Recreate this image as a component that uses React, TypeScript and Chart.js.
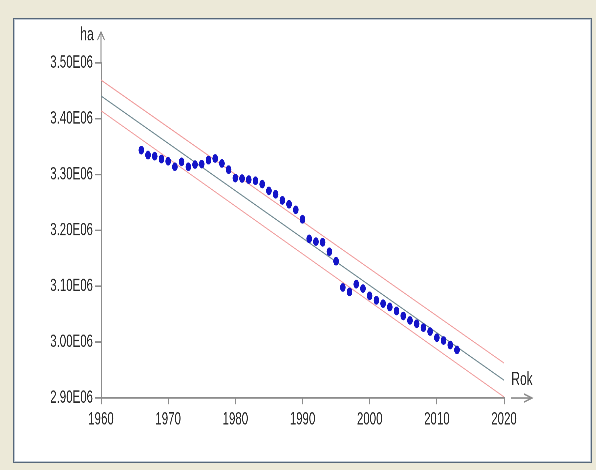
import React, { useEffect, useRef } from "react";
import { Chart, registerables } from "chart.js";

Chart.register(...registerables);

// ---- data ----
const years = [
  1966, 1967, 1968, 1969, 1970, 1971, 1972, 1973, 1974, 1975, 1976, 1977,
  1978, 1979, 1980, 1981, 1982, 1983, 1984, 1985, 1986, 1987, 1988, 1989,
  1990, 1991, 1992, 1993, 1994, 1995, 1996, 1997, 1998, 1999, 2000, 2001,
  2002, 2003, 2004, 2005, 2006, 2007, 2008, 2009, 2010, 2011, 2012, 2013,
];
const areas = [
  3.344e6, 3.335e6, 3.333e6, 3.328e6, 3.324e6, 3.314e6, 3.323e6, 3.314e6,
  3.318e6, 3.319e6, 3.326e6, 3.329e6, 3.32e6, 3.309e6, 3.294e6, 3.293e6,
  3.291e6, 3.289e6, 3.283e6, 3.271e6, 3.265e6, 3.254e6, 3.247e6, 3.237e6,
  3.22e6, 3.185e6, 3.18e6, 3.179e6, 3.162e6, 3.145e6, 3.098e6, 3.09e6,
  3.104e6, 3.096e6, 3.083e6, 3.075e6, 3.069e6, 3.063e6, 3.056e6, 3.047e6,
  3.039e6, 3.033e6, 3.026e6, 3.019e6, 3.008e6, 3.003e6, 2.995e6, 2.986e6,
];
const fitYears = [1960, 2020];
const fitValues = [3.441e6, 2.932e6];
const upperValues = [3.4695e6, 2.9627e6];
const lowerValues = [3.4145e6, 2.902e6];
const xTicks = [1960, 1970, 1980, 1990, 2000, 2010, 2020];
const yTicks = [2.9e6, 3.0e6, 3.1e6, 3.2e6, 3.3e6, 3.4e6, 3.5e6];
const xAxisTitle = "Rok";
const yAxisTitle = "ha";

// ---- layout (the original picture is stretched vertically) ----
const PAGE_W = 596;
const PAGE_H = 470;
const STRETCH = 1.551;
const LOGICAL_H = Math.round(PAGE_H / STRETCH);
const FONT = '"Liberation Sans", Arial, sans-serif';
const AXIS_COLOR = "#8c8c8c";
const TEXT_COLOR = "#2a2a2a";

const axisDecor = {
  id: "axisDecor",
  afterDraw(chart: any) {
    const { ctx, chartArea: a } = chart;
    ctx.save();
    ctx.strokeStyle = AXIS_COLOR;
    ctx.lineWidth = 1;
    const tipY = a.top - 20;
    ctx.beginPath();
    ctx.moveTo(a.left, a.top);
    ctx.lineTo(a.left, tipY);
    ctx.moveTo(a.left - 3.5, tipY + 5.2);
    ctx.lineTo(a.left, tipY);
    ctx.lineTo(a.left + 3.5, tipY + 5.2);
    const y = a.bottom;
    ctx.moveTo(a.right + 7, y);
    ctx.lineTo(a.right + 28, y);
    ctx.moveTo(a.right + 20, y - 2.6);
    ctx.lineTo(a.right + 28, y);
    ctx.lineTo(a.right + 20, y + 2.6);
    ctx.stroke();
    ctx.fillStyle = TEXT_COLOR;
    ctx.font = `12px ${FONT}`;
    ctx.textAlign = "center";
    ctx.textBaseline = "middle";
    ctx.fillText(yAxisTitle, a.left - 14, a.top - 18);
    ctx.fillText(xAxisTitle, a.right + 18, a.bottom - 11.6);
    ctx.restore();
  },
};

export default function App() {
  const ref = useRef<HTMLCanvasElement | null>(null);

  useEffect(() => {
    if (!ref.current) return;
    const line = (vals: number[], color: string) => ({
      data: fitYears.map((x, i) => ({ x, y: vals[i] })),
      showLine: true,
      borderColor: color,
      borderWidth: 0.7,
      pointRadius: 0,
      order: 2,
    });
    const chart = new Chart(ref.current, {
      type: "scatter",
      data: {
        datasets: [
          {
            data: years.map((x, i) => ({ x, y: areas[i] })),
            backgroundColor: "#1414c8",
            borderWidth: 0,
            pointRadius: 2.8,
            order: 1,
          },
          line(fitValues, "#6f8890"),
          line(upperValues, "#f09a9a"),
          line(lowerValues, "#f09a9a"),
        ] as any,
      },
      options: {
        animation: false,
        responsive: false,
        devicePixelRatio: 3,
        layout: { padding: { left: 41, right: 92, top: 40.6, bottom: 21.4 } },
        plugins: { legend: { display: false }, tooltip: { enabled: false } },
        scales: {
          x: {
            type: "linear",
            min: 1960,
            max: 2020,
            afterBuildTicks: (s: any) => {
              s.ticks = xTicks.map((v) => ({ value: v }));
            },
            afterFit: (s: any) => {
              s.height = 25;
            },
            grid: { drawOnChartArea: false, tickLength: 4, color: AXIS_COLOR },
            border: { color: AXIS_COLOR, width: 1 },
            ticks: {
              callback: (v: any) => String(v),
              font: { family: FONT, size: 11.5 },
              color: TEXT_COLOR,
              padding: 3,
              maxRotation: 0,
              autoSkip: false,
            },
          },
          y: {
            type: "linear",
            min: 2.9e6,
            max: 3.5e6,
            afterBuildTicks: (s: any) => {
              s.ticks = yTicks.map((v) => ({ value: v }));
            },
            afterFit: (s: any) => {
              s.width = 60;
            },
            grid: { drawOnChartArea: false, tickLength: 6, color: AXIS_COLOR },
            border: { color: AXIS_COLOR, width: 1 },
            ticks: {
              callback: (v: any) => (Number(v) / 1e6).toFixed(2) + "E06",
              font: { family: FONT, size: 11.5 },
              color: TEXT_COLOR,
              padding: 2,
              autoSkip: false,
            },
          },
        },
      } as any,
      plugins: [axisDecor],
    });
    return () => chart.destroy();
  }, []);

  return (
    <div>
      <div
        style={{
          position: "fixed",
          left: 0,
          top: 0,
          width: PAGE_W,
          height: PAGE_H,
          background: "#ECE9D8",
        }}
      />
      <div
        style={{
          position: "fixed",
          left: 13,
          top: 18,
          width: 579,
          height: 445,
          boxSizing: "border-box",
          background: "#ffffff",
          border: "1px solid #56677a",
          boxShadow: "inset 0 0 0 1px #c3ccd6",
        }}
      />
      <canvas
        ref={ref}
        width={PAGE_W}
        height={LOGICAL_H}
        style={{
          position: "fixed",
          left: 0,
          top: 0,
          width: `${PAGE_W}px`,
          height: `${PAGE_H}px`,
        }}
      />
    </div>
  );
}
